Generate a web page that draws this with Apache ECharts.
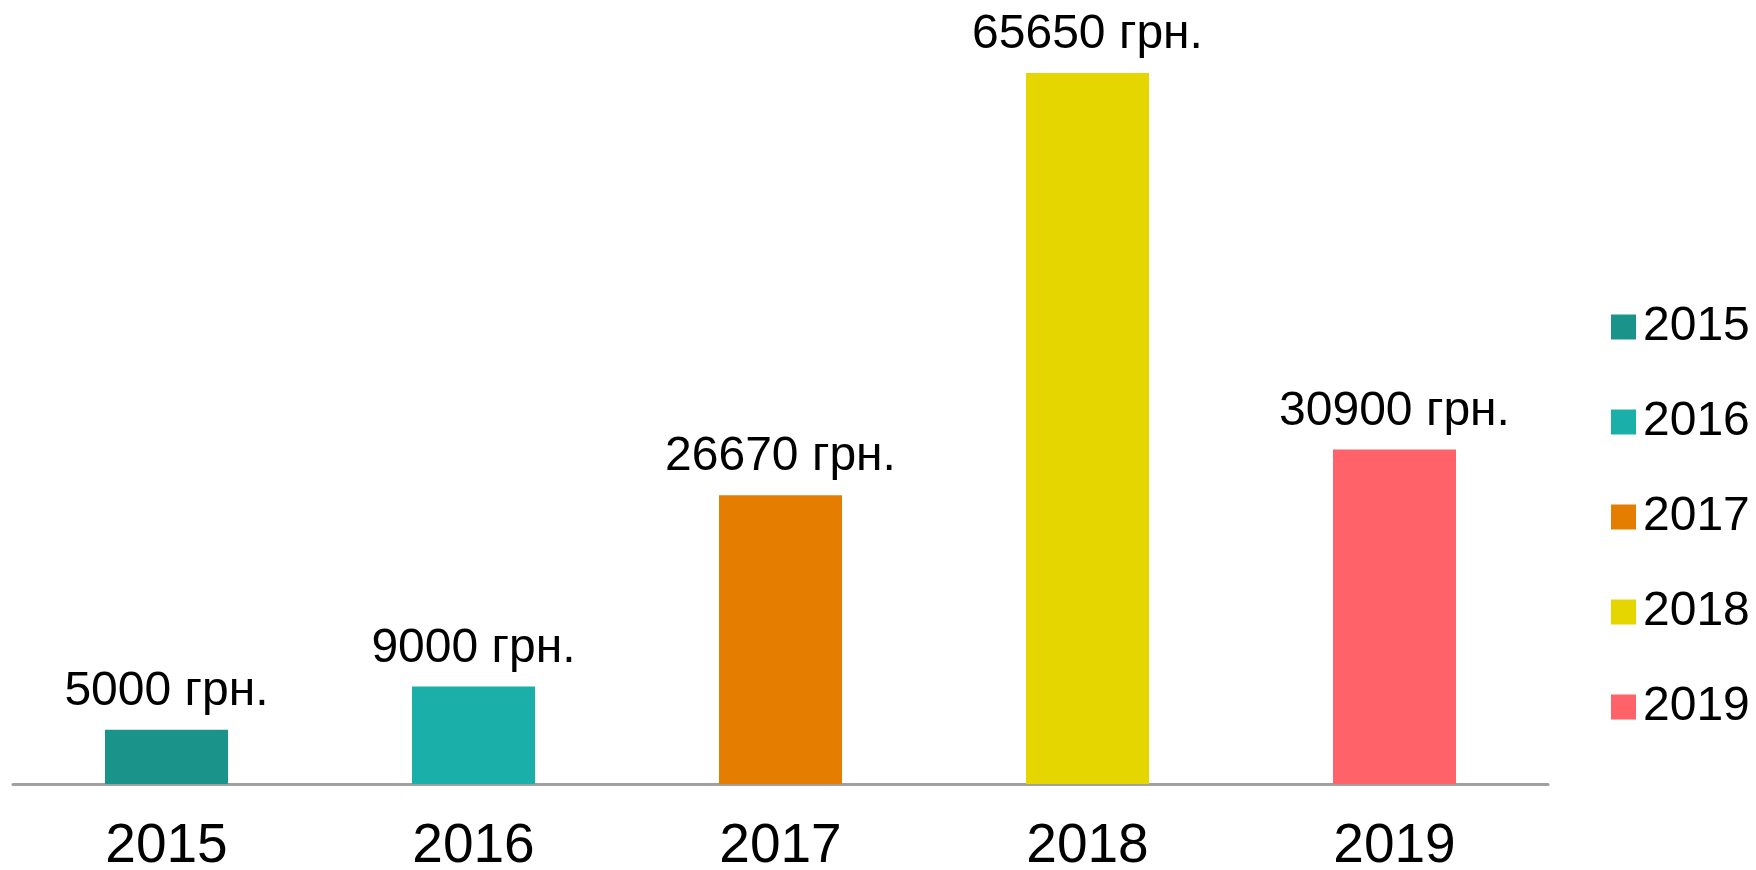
<!DOCTYPE html>
<html><head><meta charset="utf-8">
<script src="https://cdn.jsdelivr.net/npm/echarts@6/dist/echarts.min.js"></script>
<style>html,body{margin:0;padding:0;background:#fff}#c{width:1756px;height:870px}</style>
</head><body><div id="c"></div>
<script>
const categories = ['2015','2016','2017','2018','2019'];
const values = [5000, 9000, 26670, 65650, 30900];
const colors = ['#1a938b','#1bafa9','#e57d00','#e6d600','#ff6268'];
const unit = ' грн.';
const FONT = '"Liberation Sans", Arial, sans-serif';

const series = categories.map((name, i) => ({
  name: name,
  type: 'bar',
  barWidth: 123,
  barGap: '-100%',
  itemStyle: { color: colors[i] },
  label: {
    show: true, position: 'top', distance: 14,
    formatter: p => p.value + unit,
    color: '#000', fontSize: 48, fontFamily: FONT
  },
  data: categories.map((c, j) => j === i ? values[i] : '-')
}));

const chart = echarts.init(document.getElementById('c'));
chart.setOption({
  animation: false,
  backgroundColor: '#fff',
  grid: { left: 13, right: 208, top: 26, bottom: 86, containLabel: false, outerBoundsMode: 'none' },
  xAxis: {
    type: 'category', data: categories,
    axisLine: { lineStyle: { color: '#a0a0a0', width: 3 } },
    axisTick: { show: false },
    axisLabel: { color: '#000', fontSize: 55, fontFamily: FONT, margin: 35 }
  },
  yAxis: { type: 'value', min: 0, max: 70000, show: false, splitLine: { show: false } },
  legend: {
    orient: 'vertical', left: 1606, top: 298,
    itemWidth: 25, itemHeight: 25, itemGap: 47,
    icon: 'rect',
    textStyle: { color: '#000', fontSize: 48, fontFamily: FONT, padding: [0,0,0,2] },
    data: categories
  },
  series: series
});
</script></body></html>
